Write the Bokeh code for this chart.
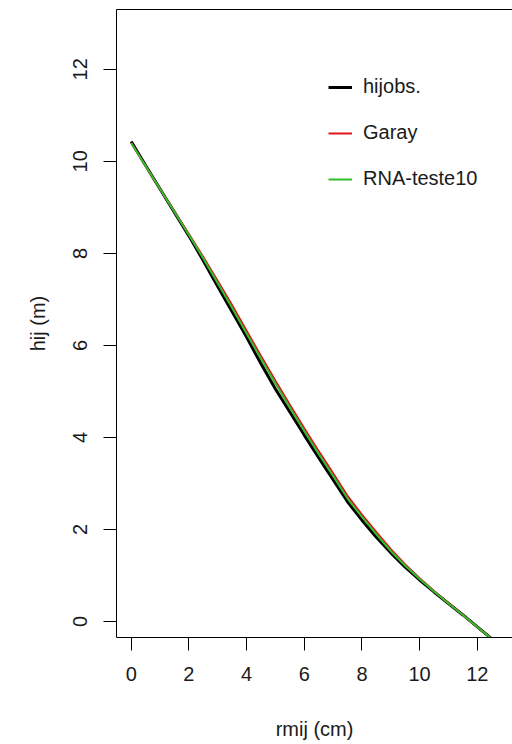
from bokeh.plotting import figure
from bokeh.models import Range1d, LinearAxis, FixedTicker, Legend, LegendItem
from bokeh.embed import file_html
from bokeh.resources import INLINE

# ---- data ----
rmij = [0, 0.5, 1, 1.5, 2, 2.5, 3, 3.5, 4, 4.5, 5, 5.5, 6, 6.5, 7, 7.5,
        8, 8.5, 9, 9.5, 10, 10.5, 11, 11.5, 12, 12.7]
hij_obs = [10.43, 9.91, 9.40, 8.89, 8.38, 7.84, 7.28, 6.73, 6.18, 5.60, 5.05, 4.55,
           4.05, 3.56, 3.08, 2.60, 2.20, 1.83, 1.49, 1.18, 0.90, 0.64, 0.39, 0.14,
           -0.12, -0.48]
hij_garay = [10.40, 9.90, 9.40, 8.91, 8.42, 7.92, 7.40, 6.87, 6.32, 5.77, 5.23, 4.71,
             4.20, 3.70, 3.22, 2.73, 2.32, 1.94, 1.57, 1.24, 0.94, 0.66, 0.40, 0.14,
             -0.12, -0.48]
hij_rna = [10.40, 9.90, 9.40, 8.90, 8.40, 7.89, 7.35, 6.81, 6.26, 5.71, 5.17, 4.65,
           4.14, 3.64, 3.16, 2.67, 2.27, 1.89, 1.53, 1.21, 0.92, 0.65, 0.39, 0.14,
           -0.12, -0.48]
series_names = ["hijobs.", "Garay", "RNA-teste10"]
x_ticks = [0, 2, 4, 6, 8, 10, 12]
y_ticks = [0, 2, 4, 6, 8, 10, 12]

FONT = "Liberation Sans"

p = figure(width=512, height=744, output_backend="svg", toolbar_location=None,
           x_range=Range1d(-0.51, 13.22), y_range=Range1d(-0.35, 13.30),
           x_axis_location=None, y_axis_location=None,
           min_border_left=116, min_border_right=0, min_border_top=9,
           min_border_bottom=107)
p.grid.visible = False
p.outline_line_color = None
p.background_fill_color = "white"
p.border_fill_color = "white"

def style_axis(ax):
    ax.axis_line_color = "black"
    ax.axis_line_width = 1
    ax.major_tick_line_color = "black"
    ax.major_tick_line_width = 1
    ax.major_tick_in = 0
    ax.major_tick_out = 13
    ax.minor_tick_line_color = None
    ax.major_label_text_font = FONT
    ax.major_label_text_font_size = "20px"
    ax.major_label_text_color = "#1a1a1a"
    ax.axis_label_text_font = FONT
    ax.axis_label_text_font_size = "20px"
    ax.axis_label_text_font_style = "normal"
    ax.axis_label_text_color = "#1a1a1a"

xa = LinearAxis(ticker=FixedTicker(ticks=x_ticks), axis_label="rmij (cm)")
style_axis(xa)
xa.major_label_standoff = 16
xa.axis_label_standoff = 34
p.add_layout(xa, "below")

ya = LinearAxis(ticker=FixedTicker(ticks=y_ticks), axis_label="hij (m)")
style_axis(ya)
ya.major_label_orientation = "vertical"
ya.major_label_standoff = 16
ya.axis_label_standoff = 22
p.add_layout(ya, "left")

ta = LinearAxis(ticker=FixedTicker(ticks=[]))
ta.axis_line_color = "black"
ta.major_tick_line_color = None
ta.minor_tick_line_color = None
ta.major_label_text_color = None
p.add_layout(ta, "above")

r_obs = p.line(rmij, hij_obs, line_color="black", line_width=3)
r_gar = p.line(rmij, hij_garay, line_color="#E0141B", line_width=2)
r_rna = p.line(rmij, hij_rna, line_color="#2EBE2E", line_width=2)

legend = Legend(items=[LegendItem(label=series_names[0], renderers=[r_obs]),
                       LegendItem(label=series_names[1], renderers=[r_gar]),
                       LegendItem(label=series_names[2], renderers=[r_rna])],
                location=(212, 447), orientation="vertical")
legend.border_line_color = None
legend.background_fill_alpha = 0
legend.padding = 0
legend.margin = 0
legend.glyph_width = 24
legend.glyph_height = 20
legend.label_height = 20
legend.spacing = 23
legend.label_standoff = 11
legend.label_text_font = FONT
legend.label_text_font_size = "20px"
legend.label_text_color = "#1a1a1a"
p.add_layout(legend, "center")

open("out.html", "w").write(file_html(p, INLINE))
